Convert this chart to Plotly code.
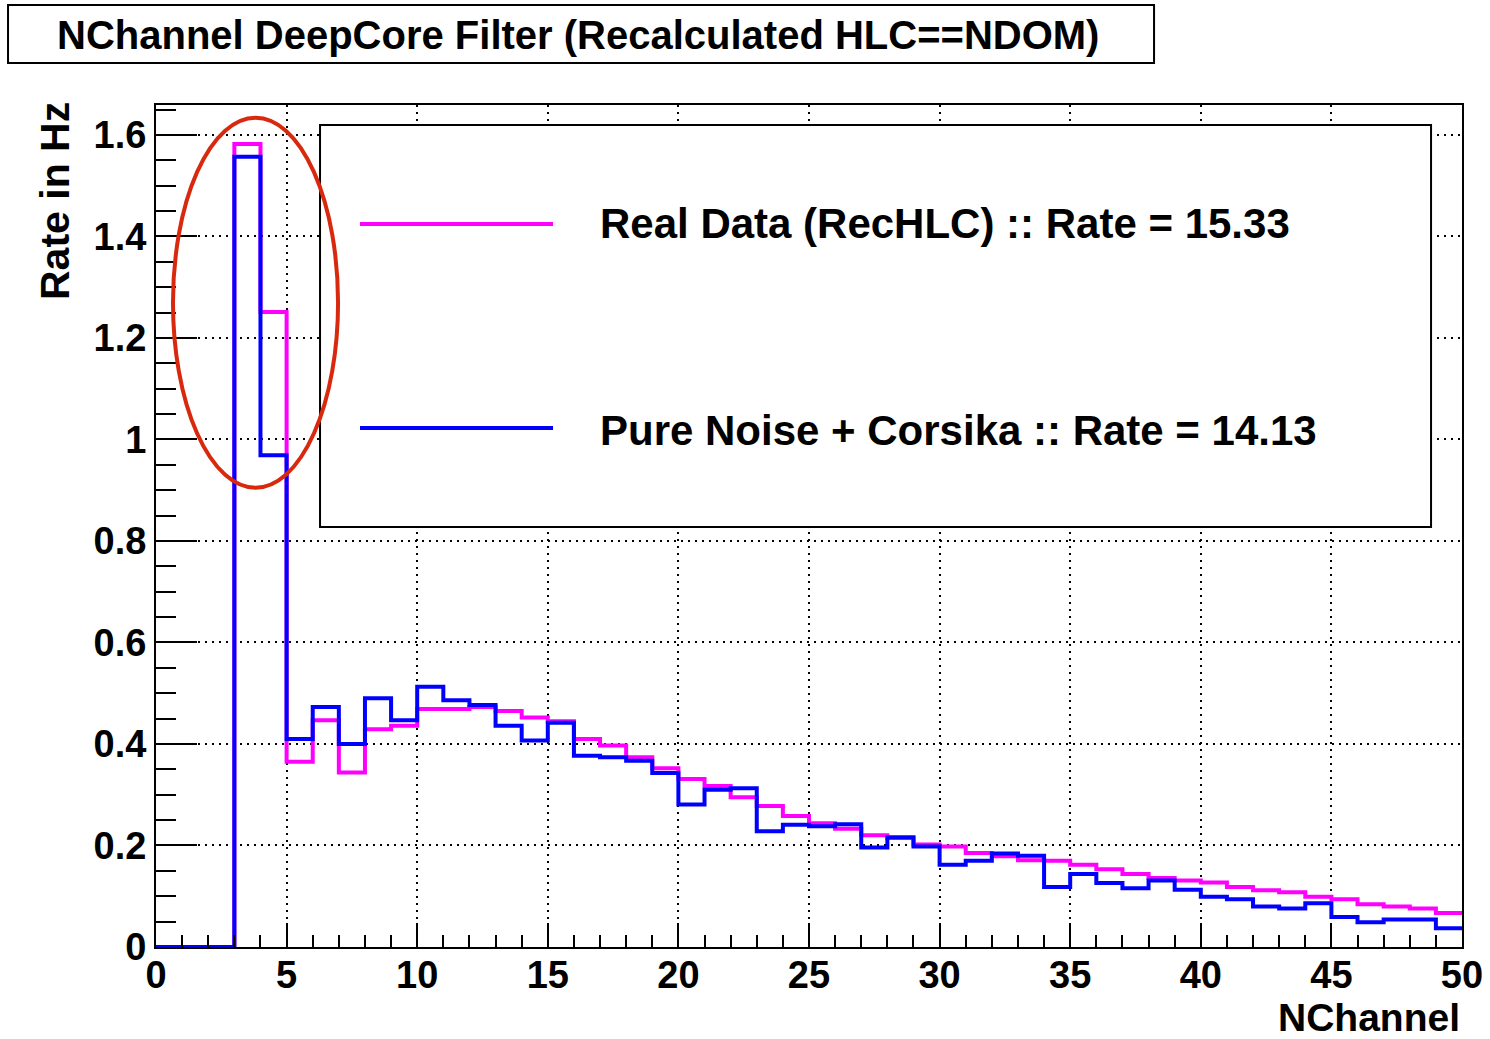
from typing import List

import plotly.graph_objects as go

# NChannel bins (width 1) from 0 to 50
BIN_EDGES = list(range(0, 51))

# Real Data (RecHLC), rate per bin in Hz
RATE_REAL_DATA = [
    0.0, 0.0, 0.0, 1.582, 1.251, 0.365, 0.447, 0.344, 0.429, 0.436,
    0.469, 0.469, 0.473, 0.465, 0.452, 0.445, 0.410, 0.397, 0.374, 0.352,
    0.331, 0.317, 0.295, 0.278, 0.258, 0.244, 0.233, 0.220, 0.215, 0.202,
    0.198, 0.185, 0.179, 0.171, 0.170, 0.162, 0.153, 0.144, 0.136, 0.131,
    0.127, 0.118, 0.112, 0.108, 0.099, 0.094, 0.084, 0.080, 0.076, 0.067,
]

# Pure Noise + Corsika, rate per bin in Hz
RATE_NOISE_CORSIKA = [
    0.0, 0.0, 0.0, 1.557, 0.969, 0.410, 0.473, 0.400, 0.490, 0.447,
    0.513, 0.486, 0.477, 0.436, 0.407, 0.442, 0.377, 0.374, 0.367, 0.343,
    0.281, 0.310, 0.313, 0.228, 0.241, 0.238, 0.242, 0.196, 0.216, 0.198,
    0.162, 0.170, 0.184, 0.180, 0.118, 0.144, 0.126, 0.116, 0.131, 0.113,
    0.099, 0.094, 0.080, 0.076, 0.086, 0.059, 0.049, 0.054, 0.054, 0.037,
]

LABEL_REAL = "Real Data (RecHLC) :: Rate = 15.33"
LABEL_NOISE = "Pure Noise + Corsika :: Rate = 14.13"
TITLE = "NChannel DeepCore Filter (Recalculated HLC==NDOM)"

FONT = "Liberation Sans, Arial, Helvetica, sans-serif"
MAGENTA = "#ff00ff"
BLUE = "#0000ff"
RED = "#d8290f"


def step_trace(values: List[float], color: str, name: str) -> go.Scatter:
    """
    Builds a ROOT-like histogram outline from bin contents.

    Args:
        values: content of each bin.
        color: line colour.
        name: trace name.

    Returns:
        go.Scatter drawn as a step line over the bin edges.
    """
    # repeat the last bin so the step reaches the upper edge
    return go.Scatter(
        x=BIN_EDGES,
        y=values + [values[-1]],
        mode="lines",
        line=dict(color=color, width=4, shape="hv"),
        name=name,
        showlegend=False,
    )


def nchannel_deepcore() -> go.Figure:
    fig = go.Figure()
    fig.add_trace(step_trace(RATE_REAL_DATA, MAGENTA, LABEL_REAL))
    fig.add_trace(step_trace(RATE_NOISE_CORSIKA, BLUE, LABEL_NOISE))

    axis_common = dict(
        showline=True,
        mirror=True,
        linecolor="black",
        linewidth=2,
        ticks="inside",
        tickcolor="black",
        tickwidth=2,
        showgrid=True,
        gridcolor="black",
        gridwidth=2,
        griddash="2px,5px",
        zeroline=False,
        automargin=False,
        tickfont=dict(family=FONT, size=38, color="black", weight="bold"),
    )

    # Update layout
    fig.update_layout(
        width=1490,
        height=1039,
        margin=dict(l=156, r=28, t=105, b=92),
        paper_bgcolor="white",
        plot_bgcolor="white",
        font=dict(family=FONT, color="black"),
        xaxis=dict(
            range=[0, 50],
            dtick=5,
            ticklen=24,
            ticklabelstandoff=-7,
            minor=dict(dtick=1, ticklen=12, ticks="inside", tickcolor="black",
                       tickwidth=2, showgrid=False),
            **axis_common,
        ),
        yaxis=dict(
            range=[0, 1.659],
            dtick=0.2,
            ticklen=41,
            minor=dict(dtick=0.05, ticklen=20, ticks="inside", tickcolor="black",
                       tickwidth=2, showgrid=False),
            **axis_common,
        ),
    )

    # Title box, legend box and the highlighting ellipse
    shapes = [
        dict(type="rect", xref="paper", yref="paper",
             x0=-0.1133, x1=0.7642, y0=1.0499, y1=1.1188,
             line=dict(color="black", width=2), fillcolor="white", layer="above"),
        dict(type="rect", xref="paper", yref="paper",
             x0=0.1256, x1=0.9763, y0=0.4988, y1=0.9762,
             line=dict(color="black", width=2), fillcolor="white", layer="above"),
        dict(type="line", xref="paper", yref="paper",
             x0=0.1562, x1=0.3040, y0=0.8587, y1=0.8587,
             line=dict(color=MAGENTA, width=4), layer="above"),
        dict(type="line", xref="paper", yref="paper",
             x0=0.1562, x1=0.3040, y0=0.6164, y1=0.6164,
             line=dict(color=BLUE, width=4), layer="above"),
        dict(type="circle", xref="x", yref="y",
             x0=0.65, x1=6.97, y0=0.905, y1=1.634,
             line=dict(color=RED, width=4), layer="above"),
    ]
    fig.update_layout(shapes=shapes)

    bold = dict(family=FONT, color="black", weight="bold")
    annotations = [
        dict(text=TITLE, xref="paper", yref="paper", x=0.3235, y=1.0831,
             xanchor="center", yanchor="middle", showarrow=False,
             font=dict(size=40, **bold)),
        dict(text=LABEL_REAL, xref="paper", yref="paper", x=0.3384, y=0.8587,
             xanchor="left", yanchor="middle", showarrow=False,
             font=dict(size=42, **bold)),
        dict(text=LABEL_NOISE, xref="paper", yref="paper", x=0.3384, y=0.6140,
             xanchor="left", yanchor="middle", showarrow=False,
             font=dict(size=42, **bold)),
        dict(text="Rate in Hz", xref="paper", yref="paper", x=-0.0773, y=1.006,
             xanchor="center", yanchor="top", textangle=-90, showarrow=False,
             font=dict(size=41, **bold)),
        dict(text="NChannel", xref="paper", yref="paper", x=1.0, y=-0.084,
             xanchor="right", yanchor="middle", showarrow=False,
             font=dict(size=39, **bold)),
    ]
    fig.update_layout(annotations=annotations)

    return fig


fig = nchannel_deepcore()
# drop the default page margin so the figure starts at the window corner
fig.write_html(
    "out.html",
    config={"displayModeBar": False},
    post_script="document.body.style.margin = '0';",
)
